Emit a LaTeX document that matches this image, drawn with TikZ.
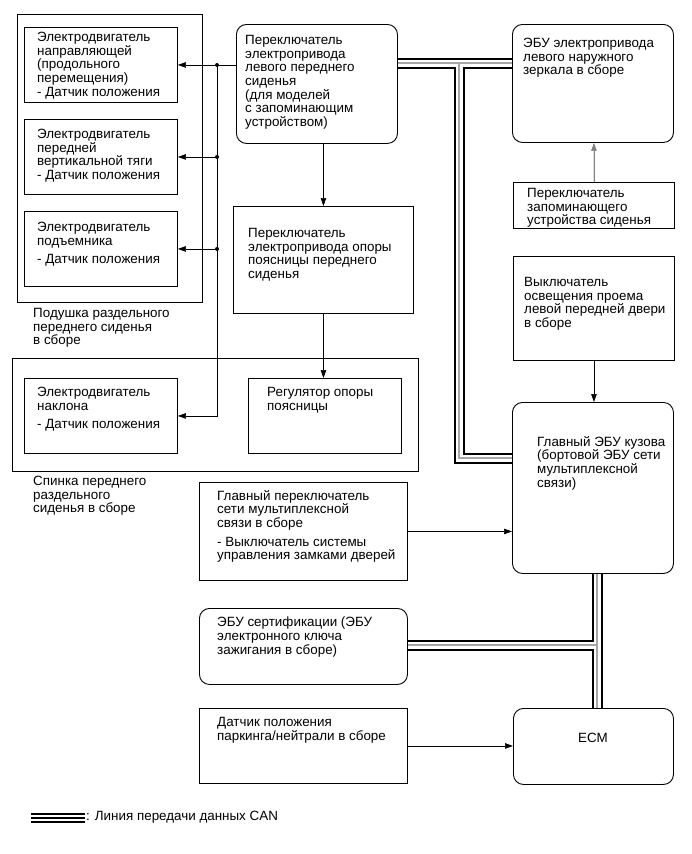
\documentclass[tikz,border=0pt]{standalone}
\usepackage{fontspec}
\setmainfont{Liberation Sans}
\usetikzlibrary{arrows.meta}
\tikzset{
  box/.style={draw, line width=0.9pt, inner sep=0pt, anchor=north west},
  rbox/.style={box, rounded corners=10pt},
  txt/.style={anchor=north west, inner sep=0pt, align=left, font=\fontsize{13.4}{13.7}\selectfont},
  arr/.style={-{Triangle[length=8pt,width=5.5pt]}, line width=0.6pt},
  dot/.style={circle, fill, inner sep=0pt, minimum size=4pt},
  canblack/.style={line width=11pt, draw=black, line join=miter},
  canwhite/.style={line width=7pt, draw=white, line join=miter},
  cangray/.style={line width=1.2pt, draw=gray!70, line join=miter},
}
\newcommand{\canpaths}[1]{%
  \draw[#1] (canT -| sw.east) -- (canT -| mirror.west);
  \draw[#1] (canT) -- (canB) -- (canB -| body.west);
  \draw[#1] (canC |- body.south) -- (canC |- ecm.north);
  \draw[#1] (canC -| cert.east) -- (canC);
}
\begin{document}
\begin{tikzpicture}[x=1pt,y=-1pt]
\useasboundingbox (0,0) rectangle (691,854);

% boxes
\node[box, minimum width=185pt, minimum height=288pt] (cushion) at (17,14) {};
\node[box, minimum width=153pt, minimum height=75pt] (m1) at (24,27) {};
\node[box, minimum width=153pt, minimum height=75pt] (m2) at (24,119) {};
\node[box, minimum width=153pt, minimum height=75pt] (m3) at (24,211) {};
\node[rbox, minimum width=161pt, minimum height=119pt] (sw) at (236,24) {};
\node[box, minimum width=180pt, minimum height=107pt] (lsw) at (233,206) {};
\node[rbox, minimum width=161pt, minimum height=118pt] (mirror) at (512,24) {};
\node[box, minimum width=161pt, minimum height=46pt] (mem) at (513,182) {};
\node[box, minimum width=161pt, minimum height=104pt] (door) at (513,256) {};
\node[rbox, minimum width=161pt, minimum height=171pt] (body) at (512,402) {};
\node[box, minimum width=406pt, minimum height=113pt] (back) at (12,358) {};
\node[box, minimum width=153pt, minimum height=75pt] (tilt) at (24,378) {};
\node[box, minimum width=153pt, minimum height=75pt] (ladj) at (248,378) {};
\node[box, minimum width=208pt, minimum height=98pt] (msw) at (199,482) {};
\node[rbox, minimum width=208pt, minimum height=76pt] (cert) at (199,608) {};
\node[box, minimum width=208pt, minimum height=75pt] (park) at (199,708) {};
\node[rbox, minimum width=160pt, minimum height=76pt] (ecm) at (513,708) {};

% texts
\node[txt] (t-m1) at (37,32) {Электродвигатель\\направляющей\\(продольного\\перемещения)\\- Датчик положения};
\node[txt] (t-m2) at (37,129) {Электродвигатель\\передней\\вертикальной тяги\\- Датчик положения};
\node[txt] (t-m3) at (37,222) {Электродвигатель\\подъемника\\[5pt]- Датчик положения};
\node[txt] (t-sw) at (245,35) {Переключатель\\электропривода\\левого переднего\\сиденья\\(для моделей\\с запоминающим\\устройством)};
\node[txt] (t-lsw) at (248,228) {Переключатель\\электропривода опоры\\поясницы переднего\\сиденья};
\node[txt] (t-mirror) at (523,38) {ЭБУ электропривода\\левого наружного\\зеркала в сборе};
\node[txt] (t-mem) at (527,188) {Переключатель\\запоминающего\\устройства сиденья};
\node[txt] (t-door) at (524,277) {Выключатель\\освещения проема\\левой передней двери\\в сборе};
\node[txt] (t-body) at (537,436) {Главный ЭБУ кузова\\(бортовой ЭБУ сети\\мультиплексной\\связи)};
\node[txt] (t-cushion) at (33,308) {Подушка раздельного\\переднего сиденья\\в сборе};
\node[txt] (t-tilt) at (37,387) {Электродвигатель\\наклона\\[5pt]- Датчик положения};
\node[txt] (t-ladj) at (267,387) {Регулятор опоры\\поясницы};
\node[txt] (t-back) at (33,476) {Спинка переднего\\раздельного\\сиденья в сборе};
\node[txt] (t-msw) at (217,490) {Главный переключатель\\сети мультиплексной\\связи в сборе\\[5pt]- Выключатель системы\\управления замками дверей};
\node[txt] (t-cert) at (217,617) {ЭБУ сертификации (ЭБУ\\электронного ключа\\зажигания в сборе)};
\node[txt] (t-park) at (217,717) {Датчик положения\\паркинга/нейтрали в сборе};
\node[font=\fontsize{13.4}{13.7}\selectfont, inner sep=0pt] (t-ecm) at (593,738) {ECM};

% CAN bus
\coordinate (canT) at (459,63);
\coordinate (canB) at (459,458);
\coordinate (canC) at (597,645);
\canpaths{canblack}
\canpaths{canwhite}
\canpaths{cangray}

% thin connectors
\coordinate (bus) at (217,65);
\draw[arr] (m1.east -| sw.west) -- (m1.east);
\draw[arr] (bus) |- (tilt.east);
\draw[arr] (bus |- m2.east) -- (m2.east);
\draw[arr] (bus |- m3.east) -- (m3.east);
\node[dot] (d1) at (bus) {};
\node[dot] (d2) at (bus |- m2.east) {};
\node[dot] (d3) at (bus |- m3.east) {};
\draw[arr] (sw.south -| lsw.north) -- (lsw.north);
\draw[arr] (lsw.south) -- (lsw.south |- ladj.north);
\draw[arr, draw=gray, fill=black] (mem.north) -- (mem.north |- mirror.south);
\draw[arr] (door.south) -- (door.south |- body.north);
\draw[arr] (msw.east) -- (msw.east -| body.west);
\draw[arr] (park.east) -- (park.east -| ecm.west);

% legend
\coordinate (legA) at (31,818);
\coordinate (legB) at (85,818);
\draw[line width=10pt] (legA) -- (legB);
\draw[line width=6pt, white] (legA) -- (legB);
\draw[line width=2pt] (legA) -- (legB);
\node[anchor=west, inner sep=0pt, font=\fontsize{13.4}{13.7}\selectfont] (leg) at (86,817) {: Линия передачи данных CAN};
\end{tikzpicture}
\end{document}
